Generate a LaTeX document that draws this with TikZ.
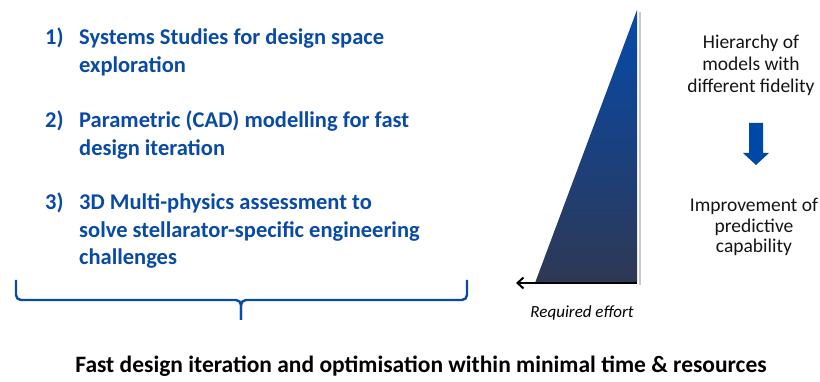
\documentclass[tikz,border=0pt]{standalone}
\usepackage{fontspec}
\setmainfont{Carlito}
\usetikzlibrary{arrows.meta}
\definecolor{itemblue}{RGB}{8,74,166}
\definecolor{arrowblue}{RGB}{0,72,168}
\definecolor{wedgetop}{RGB}{6,74,170}
\definecolor{wedgebottom}{RGB}{46,56,84}
\definecolor{notegray}{RGB}{20,20,20}
\begin{document}
\begin{tikzpicture}[x=1pt,y=-1pt,
  % multi-line nodes are placed by the baseline of their last line
  numlabel/.style={anchor=base west,inner sep=0pt,text=itemblue,font=\fontsize{22.5}{27.5}\selectfont\bfseries},
  itemtext/.style={anchor=base west,inner sep=0pt,text=itemblue,align=left,font=\fontsize{22.5}{27.5}\selectfont\bfseries},
  note/.style={anchor=base,inner sep=0pt,text=notegray,align=center,font=\fontsize{19.5}{22}\selectfont},
  bracepart/.style={draw=itemblue,line width=2.4pt,rounded corners=5pt}]
\useasboundingbox (0,0) rectangle (820,382);

% numbered list
\node[numlabel] (n1) at (45,45) {1)};
\node[itemtext] (t1) at (79,72.5) {Systems Studies for design space\\exploration};
\node[numlabel] (n2) at (45,128) {2)};
\node[itemtext] (t2) at (79,155.5) {Parametric (CAD) modelling for fast\\design iteration};
\node[numlabel] (n3) at (45,210) {3)};
\node[itemtext] (t3) at (79,265) {3D Multi-physics assessment to\\solve stellarator-specific engineering\\challenges};

% brace under the list
\coordinate (btip) at (241,320);
\draw[bracepart] (16,280) -- (16,300) -- (241,300) -- (btip);
\draw[bracepart] (467,280) -- (467,300) -- (241,300) -- (btip);

% effort wedge
\fill[black!22] (639,12) -- (641,12) -- (641,285) -- (639,285) -- cycle;
\shade[top color=wedgetop,bottom color=wedgebottom] (535,283) -- (637,10) -- (637,283) -- cycle;
\coordinate (wedgeright) at (637,283);
\coordinate (wedgeleft) at (516,283);
\draw[line width=2pt,-{Straight Barb[length=6pt,width=11pt,line width=2pt]}] (wedgeright) -- (wedgeleft);
\node[anchor=base,inner sep=0pt,font=\fontsize{17}{20}\selectfont\itshape] (effort) at (582,318) {Required effort};

% fidelity notes
\node[note] (hier) at (751,93) {Hierarchy of\\models with\\different fidelity};
\fill[arrowblue] (749,123) -- (763,123) -- (763,153) -- (769,153) -- (756,165) -- (743,153) -- (749,153) -- cycle;
\node[note,font=\fontsize{19.5}{20.5}\selectfont] (impr) at (754,253) {Improvement of\\predictive\\capability};

% summary line
\node[anchor=base,inner sep=0pt,font=\fontsize{23.5}{28}\selectfont\bfseries] (summary) at (421,372) {Fast design iteration and optimisation within minimal time \& resources};
\end{tikzpicture}
\end{document}
